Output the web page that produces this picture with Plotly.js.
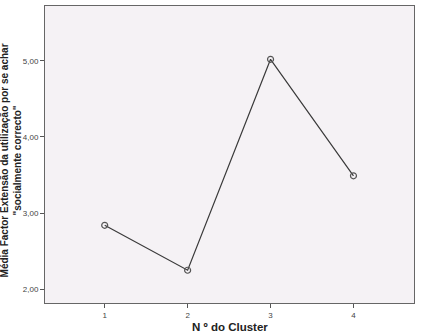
<!DOCTYPE html>
<html><head><meta charset="utf-8">
<script src="https://cdn.plot.ly/plotly-3.0.1.min.js"></script>
<style>html,body{margin:0;padding:0;background:#fff}#chart{width:421px;height:332px}</style>
</head><body><div id="chart"></div>
<script>
const clusters = [1, 2, 3, 4];
const means = [2.84, 2.25, 5.02, 3.49];
const yTicks = [2, 3, 4, 5];
const yTickLabels = ["2,00", "3,00", "4,00", "5,00"];
const xTicks = [1, 2, 3, 4];
const xTitle = 'N º do Cluster';
const yTitle = 'Média Factor Extensão da utilização por se achar<br>"socialmente correcto"';

Plotly.newPlot('chart', [{
  x: clusters, y: means, type: 'scatter', mode: 'lines+markers',
  line: {color: '#3a3a3a', width: 1.2},
  marker: {symbol: 'circle-open', size: 6, color: '#555', line: {width: 1.2}}
}], {
  width: 421, height: 332,
  margin: {l: 45, r: 7, t: 6, b: 29},
  paper_bgcolor: '#ffffff', plot_bgcolor: '#f5f2f5',
  showlegend: false,
  font: {family: 'Liberation Sans, Arial, sans-serif', color: '#333'},
  xaxis: {range: [0.28, 4.73], tickvals: xTicks, ticktext: xTicks.map(String),
    ticks: 'outside', ticklen: 4, tickcolor: '#555', showgrid: false, zeroline: false,
    showline: true, linecolor: '#666', linewidth: 1, mirror: true,
    tickfont: {size: 8, color: '#444'}},
  yaxis: {range: [1.82, 5.72], tickvals: yTicks, ticktext: yTickLabels,
    ticks: 'outside', ticklen: 4, tickcolor: '#555', showgrid: false, zeroline: false,
    showline: true, linecolor: '#666', linewidth: 1, mirror: true,
    tickfont: {size: 8, color: '#444'}},
  annotations: [
    {text: '<b>' + yTitle + '</b>', textangle: -90, xref: 'paper', yref: 'paper',
     x: 0, xshift: -34, y: 0.48, xanchor: 'center', yanchor: 'middle', showarrow: false,
     font: {size: 10, color: '#222'}},
    {text: '<b>' + xTitle + '</b>', xref: 'paper', yref: 'paper', x: 0.5, y: 0,
     yshift: -16, xanchor: 'center', yanchor: 'top', showarrow: false,
     font: {size: 11.5, color: '#222'}}
  ]
}, {displayModeBar: false, staticPlot: true});
</script></body></html>
